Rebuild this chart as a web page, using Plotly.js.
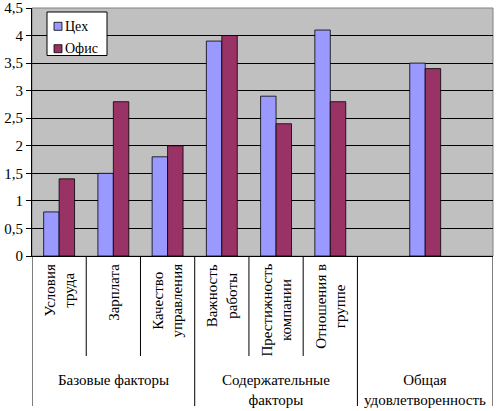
<!DOCTYPE html>
<html><head><meta charset="utf-8">
<script src="https://cdn.plot.ly/plotly-3.0.1.min.js"></script>
<style>html,body{margin:0;padding:0;background:#fff}#chart{width:500px;height:411px}</style>
</head><body><div id="chart"></div>
<script>
// ---- data ----
const subLabels = ["Условия<br>труда", "Зарплата", "Качество<br>управления", "Важность<br>работы", "Престижность<br>компании", "Отношения в<br>группе", ""];
const groupLabels = ["Базовые факторы", "Содержательные<br>факторы", "Общая<br>удовлетворенность"];
const groupSizes = [3, 3, 1];
const seriesNames = ["Цех", "Офис"];
const seriesColors = ["#9999FF", "#993366"];
const cehValues = [0.8, 1.5, 1.8, 3.9, 2.9, 4.1, 3.5];
const ofisValues = [1.4, 2.8, 2.0, 4.0, 2.4, 2.8, 3.4];
const yTickVals = [0, 0.5, 1, 1.5, 2, 2.5, 3, 3.5, 4, 4.5];

// ---- layout helpers ----
const catWidths = [1, 1, 1, 1, 1, 1, 2.5];
const starts = [];
let acc = -0.5;
catWidths.forEach(w => { starts.push(acc); acc += w; });
const xEnd = acc;
const centers = starts.map((s, i) => s + catWidths[i] / 2);

const FONT = "Liberation Serif";
const FS = 15;
const M = {l: 32, r: 7, t: 8, b: 155};
const plotW = 500 - M.l - M.r;
const plotH = 411 - M.t - M.b;
const py = px => (411 - M.b - px) / plotH; // pixel y -> paper y
const pxx = px => (px - M.l) / plotW;      // pixel x -> paper x

const traces = [
  {type: "bar", name: seriesNames[0], x: centers, y: cehValues,
   marker: {color: seriesColors[0], line: {color: "#000", width: 0.8}}},
  {type: "bar", name: seriesNames[1], x: centers, y: ofisValues,
   marker: {color: seriesColors[1], line: {color: "#000", width: 0.8}}}
];

const shapes = [];
const annotations = [];
// plot-area border
shapes.push({type: "rect", xref: "paper", yref: "paper", x0: 0, x1: 1, y0: 0, y1: 1,
  line: {color: "#808080", width: 1}, layer: "below"});
// category dividers
let idx = 0;
const groupBounds = [starts[0]];
groupSizes.forEach(n => { idx += n; groupBounds.push(idx < starts.length ? starts[idx] : xEnd); });
starts.forEach(s => {
  if (!groupBounds.includes(s)) {
    shapes.push({type: "line", xref: "x", yref: "paper", x0: s, x1: s, y0: 0, y1: py(356),
      line: {color: "#000", width: 1}});
  }
});
groupBounds.forEach(b => {
  shapes.push({type: "line", xref: "x", yref: "paper", x0: b, x1: b, y0: 0, y1: py(406),
    line: {color: "#000", width: 1}});
});
// sub labels (rotated)
subLabels.forEach((t, i) => {
  if (!t) return;
  annotations.push({text: t, x: centers[i], xref: "x", y: py(262), yref: "paper",
    xanchor: "center", yanchor: "top", textangle: -90, align: "center", showarrow: false,
    font: {family: FONT, size: FS, color: "#000"}});
});
// group labels
groupSizes.forEach((n, g) => {
  const c = (groupBounds[g] + groupBounds[g + 1]) / 2;
  annotations.push({text: groupLabels[g], x: c, xref: "x", y: py(370), yref: "paper",
    xanchor: "center", yanchor: "top", align: "center", showarrow: false,
    font: {family: FONT, size: FS, color: "#000"}});
});
// legend (Excel style box)
shapes.push({type: "rect", xref: "paper", yref: "paper", x0: pxx(47), x1: pxx(107), y0: py(12), y1: py(55.5),
  fillcolor: "#fff", line: {color: "#000", width: 1}, layer: "above"});
seriesNames.forEach((nm, i) => {
  const cy = 26.3 + i * 22.4;
  shapes.push({type: "rect", xref: "paper", yref: "paper", x0: pxx(54), x1: pxx(62), y0: py(cy - 4), y1: py(cy + 4),
    fillcolor: seriesColors[i], line: {color: "#000", width: 0.8}, layer: "above"});
  annotations.push({text: nm, x: pxx(63), xref: "paper", y: py(cy), yref: "paper",
    xanchor: "left", yanchor: "middle", showarrow: false,
    font: {family: FONT, size: 14, color: "#000"}});
});

const layout = {
  width: 500, height: 411,
  margin: M,
  paper_bgcolor: "#fff", plot_bgcolor: "#C0C0C0",
  separators: ", ",
  font: {family: FONT, size: FS, color: "#000"},
  barmode: "group", bargap: 0.43, bargroupgap: 0,
  xaxis: {range: [-0.5, xEnd], showticklabels: false, ticks: "", showgrid: false,
    zeroline: false, showline: true, linecolor: "#000", linewidth: 1, fixedrange: true},
  yaxis: {range: [0, 4.5], tickvals: yTickVals, ticks: "outside", ticklen: 5, tickcolor: "#000",
    showline: true, linecolor: "#000", linewidth: 1, showgrid: true, gridcolor: "#000", gridwidth: 1,
    zeroline: false, tickfont: {family: FONT, size: FS, color: "#000"}},
  showlegend: false,
  shapes: shapes,
  annotations: annotations
};

Plotly.newPlot("chart", traces, layout, {displayModeBar: false, staticPlot: true});
</script>
</body></html>
